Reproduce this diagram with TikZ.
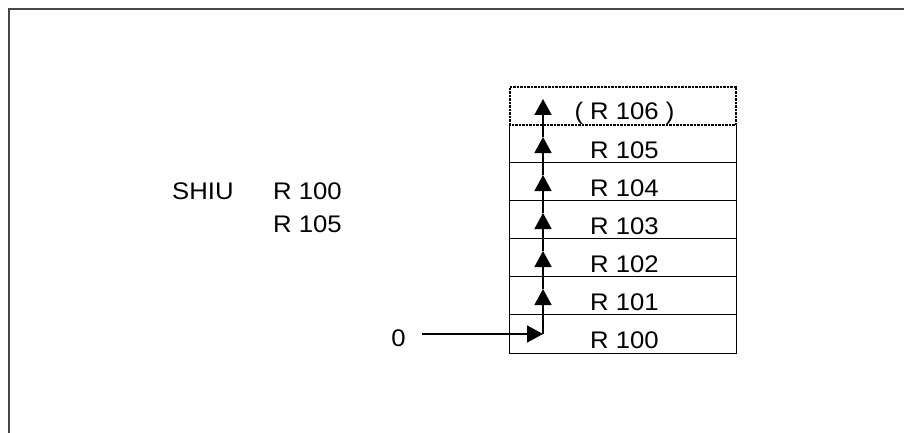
\documentclass[tikz,border=0pt]{standalone}
\usepackage{fontspec}
\setmainfont{Liberation Sans}[FakeStretch=1.07]
\usetikzlibrary{arrows.meta}
\definecolor{framegray}{RGB}{70,70,70}
\begin{document}
\begin{tikzpicture}[x=1pt,y=-1pt,
  every node/.style={font=\fontsize{24}{28}\selectfont},
  row/.style={minimum width=226pt, minimum height=38pt, inner sep=0pt, text height=28pt, text depth=0pt},
  stackline/.style={line width=1.1pt, black},
  dotline/.style={line width=1.6pt, black, dash pattern=on 2.5pt off 1pt},
  flow/.style={line width=1.6pt, -{Triangle[length=16pt,width=17pt]}},
  frameline/.style={line width=2.2pt, framegray},
  plain/.style={inner sep=0pt, anchor=base west}]
\useasboundingbox (0,0) rectangle (904,433);
% frame
\draw[frameline] (904,9) -- (9,9) -- (9,433);
% labels
\node[plain] (shiu) at (172,199) {SHIU};
\node[plain] (la) at (273,199) {R 100};
\node[plain] (lb) at (273,232) {R 105};
% rows
\node[row] (r106) at (623,106) {\hspace*{3pt}( R 106 )};
\node[row] (r105) at (623,144) {\hspace*{3pt}R 105};
\node[row] (r104) at (623,182) {\hspace*{3pt}R 104};
\node[row] (r103) at (623,220) {\hspace*{3pt}R 103};
\node[row] (r102) at (623,258) {\hspace*{3pt}R 102};
\node[row] (r101) at (623,296) {\hspace*{3pt}R 101};
\node[row] (r100) at (623,334) {\hspace*{3pt}R 100};
\draw[stackline] (r105.north west) -- (r100.south west) -- (r100.south east) -- (r105.north east);
\foreach \r in {r104,r103,r102,r101,r100}
  \draw[stackline] (\r.north west) -- (\r.north east);
\draw[dotline] (r106.south west) rectangle (r106.north east);
% zero input
\node[text height=25pt, text depth=0pt, inner ysep=0pt, inner xsep=16pt] (zero) at (398.5,334) {0};
\coordinate (j0) at (543,334);
\coordinate (t101) at (543,289);
\coordinate (t102) at (543,251);
\coordinate (t103) at (543,213);
\coordinate (t104) at (543,175);
\coordinate (t105) at (543,137);
\coordinate (t106) at (543,99);
\draw[flow] (zero.east) -- (j0);
\draw[flow] (j0) -- (t101);
\draw[flow] (t101) -- (t102);
\draw[flow] (t102) -- (t103);
\draw[flow] (t103) -- (t104);
\draw[flow] (t104) -- (t105);
\draw[flow] (t105) -- (t106);
\end{tikzpicture}
\end{document}
